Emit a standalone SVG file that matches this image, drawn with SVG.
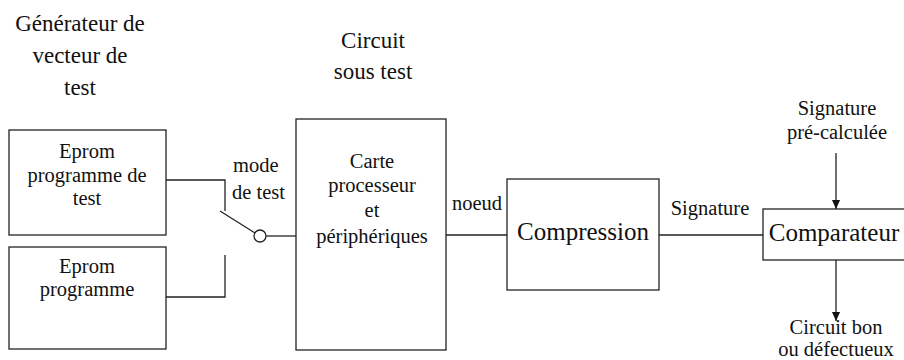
<svg xmlns="http://www.w3.org/2000/svg" width="904" height="360" viewBox="0 0 904 360">
<style>
text{fill:#111;text-anchor:middle;font-family:"Liberation Serif","Times New Roman",serif}
.s{text-anchor:start}
.b{fill:#fff;stroke:#222;stroke-width:1.3}
.l{fill:none;stroke:#222;stroke-width:1.3}
.t{font-size:20.5px}
.h{font-size:23px}
.g{font-size:25px}
</style>
<defs>
<marker id="ah" viewBox="0 0 10 10" refX="10" refY="5" markerWidth="9" markerHeight="9" markerUnits="userSpaceOnUse" orient="auto"><path d="M0,0.5L10,5L0,9.5z" fill="#111"/></marker>
</defs>
<rect width="904" height="360" fill="#fff"/>
<g id="labels">
<text class="h" x="80" y="31">Générateur de</text>
<text class="h" x="80" y="63">vecteur de</text>
<text class="h" x="80" y="95">test</text>
<text class="h" x="373" y="48">Circuit</text>
<text class="h" x="373" y="79">sous test</text>
<text class="t s" x="233" y="172">mode</text>
<text class="t s" x="232" y="199">de test</text>
<text class="t s" x="452" y="210">noeud</text>
<text class="t" x="710" y="215">Signature</text>
<text class="t" x="837" y="115">Signature</text>
<text class="t" x="837" y="139">pré-calculée</text>
<text class="t" x="836" y="334">Circuit bon</text>
<text class="t" x="836" y="356">ou défectueux</text>
</g>
<g id="connectors">
<polyline class="l" points="166,180 225,180 225,211"/>
<polyline class="l" points="166,297 225,297 225,255"/>
<line class="l" x1="220" y1="211" x2="255" y2="233"/>
<circle class="l" cx="260" cy="236" r="6" fill="#fff"/>
<line class="l" x1="266" y1="236" x2="296" y2="236"/>
<line class="l" x1="446" y1="235" x2="507" y2="235"/>
<line class="l" x1="659" y1="235" x2="763" y2="235"/>
<line class="l" x1="836" y1="153" x2="836" y2="209" marker-end="url(#ah)"/>
<line class="l" x1="836" y1="260" x2="836" y2="321" marker-end="url(#ah)"/>
</g>
<g id="eprom-test">
<rect class="b" x="9" y="130" width="157" height="105"/>
<text class="t" x="87" y="158">Eprom</text>
<text class="t" x="87" y="182">programme de</text>
<text class="t" x="87" y="205">test</text>
</g>
<g id="eprom-prog">
<rect class="b" x="9" y="247" width="157" height="102"/>
<text class="t" x="87" y="273">Eprom</text>
<text class="t" x="87" y="296">programme</text>
</g>
<g id="carte">
<rect class="b" x="296" y="119" width="150" height="231"/>
<text class="t" x="372" y="168">Carte</text>
<text class="t" x="372" y="192">processeur</text>
<text class="t" x="372" y="217">et</text>
<text class="t" x="372" y="243">périphériques</text>
</g>
<g id="compression">
<rect class="b" x="507" y="179" width="152" height="111"/>
<text class="g" x="583" y="240">Compression</text>
</g>
<g id="comparateur">
<rect class="b" x="763" y="209" width="160" height="51"/>
<text class="g" x="834" y="241">Comparateur</text>
</g>
</svg>
